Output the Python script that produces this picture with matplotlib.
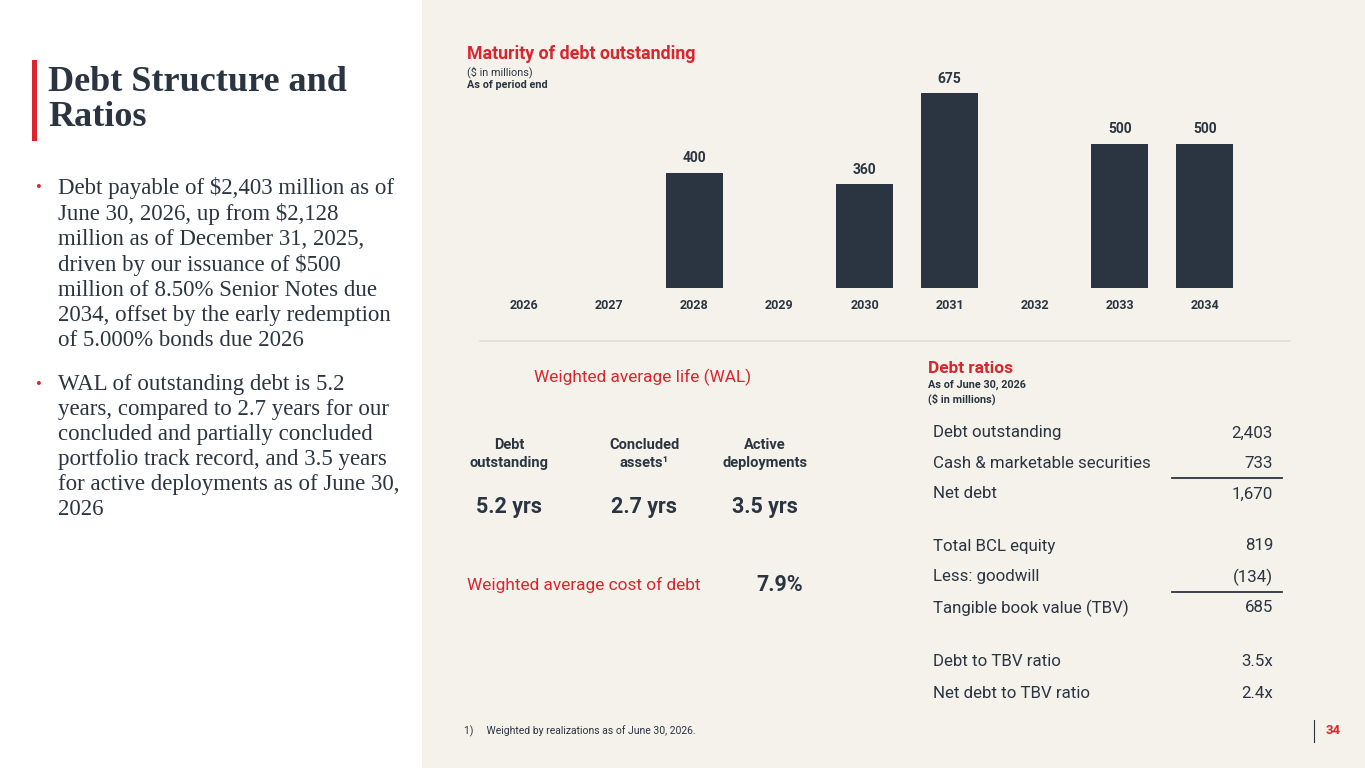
import matplotlib
matplotlib.use("Agg")
import matplotlib.pyplot as plt
from matplotlib.patches import Rectangle
from matplotlib.lines import Line2D

W, H = 1365, 768
NAVY = "#2b3541"
RED = "#d9252e"
BEIGE = "#f4f2eb"
SANS = ["Roboto", "DejaVu Sans"]
SERIF = ["Liberation Serif", "DejaVu Serif"]

# data
years = ["2026", "2027", "2028", "2029", "2030", "2031", "2032", "2033", "2034"]
maturities = [0, 0, 400, 0, 360, 675, 0, 500, 500]

wal_headers = ["Debt\noutstanding", "Concluded\nassets\u00b9", "Active\ndeployments"]
wal_values = ["5.2 yrs", "2.7 yrs", "3.5 yrs"]
cost_of_debt = "7.9%"

ratio_labels = ["Debt outstanding", "Cash & marketable securities", "Net debt",
                "Total BCL equity", "Less: goodwill", "Tangible book value (TBV)",
                "Debt to TBV ratio", "Net debt to TBV ratio"]
ratio_values = ["2,403", "733", "1,670", "819", "(134)", "685", "3.5x", "2.4x"]

bullets = [
    "Debt payable of $2,403 million as of\nJune 30, 2026, up from $2,128\nmillion as of December 31, 2025,\n"
    "driven by our issuance of $500\nmillion of 8.50% Senior Notes due\n2034, offset by the early redemption\n"
    "of 5.000% bonds due 2026",
    "WAL of outstanding debt is 5.2\nyears, compared to 2.7 years for our\nconcluded and partially concluded\n"
    "portfolio track record, and 3.5 years\nfor active deployments as of June 30,\n2026",
]

fig = plt.figure(figsize=(W / 100, H / 100), dpi=100)
fig.patch.set_facecolor("white")


def fx(x):
    return x / W


def fy(y):
    return 1 - y / H


def txt(x, y, s, **kw):
    kw.setdefault("family", SANS)
    kw.setdefault("color", NAVY)
    kw.setdefault("va", "center")
    fig.text(fx(x), fy(y), s, **kw)


# beige panel (behind the axes)
fig.patches.append(Rectangle((fx(422), 0), 1 - fx(422), 1, transform=fig.transFigure,
                             facecolor=BEIGE, edgecolor="none", zorder=-5))

# title block
fig.patches.append(Rectangle((fx(32), fy(141)), fx(5), 81 / H, transform=fig.transFigure,
                             facecolor=RED, edgecolor="none"))
txt(48, 100, "Debt Structure and\nRatios", family=SERIF, fontsize=26, fontweight="bold",
    linespacing=1.1)

# bullets
by = [189, 386]
for y0, b in zip(by, bullets):
    txt(38, y0 - 1, "\u2022", color=RED, fontsize=12, ha="center", family=SERIF)
    fig.text(fx(58), fy(y0 - 12), b, family=SERIF, color=NAVY, fontsize=16.5, va="top",
             linespacing=1.25)

# bar chart
ax = fig.add_axes([fx(481.5), fy(288), fx(1247.5) - fx(481.5), (288 - 60) / H])
ax.set_facecolor("none")
xs = list(range(len(years)))
bx = [x for x, v in zip(xs, maturities) if v > 0]
bv = [v for v in maturities if v > 0]
ax.bar(bx, bv, width=0.67, color=NAVY)
for x, v in zip(bx, bv):
    ax.text(x, v + 25, str(v), ha="center", va="bottom", fontsize=10, fontweight="bold",
            color=NAVY, family=SANS)
ax.set_xlim(-0.5, len(years) - 0.5)
ax.set_ylim(0, 790)
ax.set_xticks(xs)
ax.set_xticklabels(years, fontsize=9, fontweight="bold", color=NAVY, family=SANS)
ax.tick_params(axis="x", length=0, pad=8)
ax.set_yticks([])
for s in ax.spines.values():
    s.set_visible(False)

txt(467, 54, "Maturity of debt outstanding", color=RED, fontsize=12.8, fontweight="bold")
txt(467, 72, "($ in millions)", fontsize=7.8)
txt(467, 85, "As of period end", fontsize=7.8, fontweight="bold")

# separator
fig.lines.append(Line2D([fx(480), fx(1290)], [fy(341), fy(341)], transform=fig.transFigure,
                        color="#e2ded5", lw=1.2))

# WAL block
txt(643, 377, "Weighted average life (WAL)", color=RED, fontsize=12.4, ha="center")
wal_x = [509, 644, 765]
for x, h, v in zip(wal_x, wal_headers, wal_values):
    txt(x, 454, h, fontsize=10.5, fontweight="bold", ha="center", linespacing=1.4)
    txt(x, 507, v, fontsize=15.5, fontweight="bold", ha="center")
txt(467, 585, "Weighted average cost of debt", color=RED, fontsize=12.4)
txt(780, 585, cost_of_debt, fontsize=15.5, fontweight="bold", ha="center")

# debt ratios table
txt(928, 368, "Debt ratios", color=RED, fontsize=12.4, fontweight="bold")
txt(928, 385, "As of June 30, 2026", fontsize=7.8, fontweight="bold")
txt(928, 399, "($ in millions)", fontsize=7.8, fontweight="bold")
row_y = [433, 463, 494, 546, 577, 608, 662, 693]
for y, lab, val in zip(row_y, ratio_labels, ratio_values):
    txt(933, y, lab, fontsize=12.2)
    txt(1273, y, val, fontsize=12.2, ha="right")
for y in (478, 592):
    fig.lines.append(Line2D([fx(1172), fx(1282)], [fy(y), fy(y)], transform=fig.transFigure,
                            color=NAVY, lw=1.3))

# footnote and page number
txt(464, 731, "1)     Weighted by realizations as of June 30, 2026.", fontsize=7.5)
fig.lines.append(Line2D([fx(1314), fx(1314)], [fy(720), fy(742)], transform=fig.transFigure,
                        color=NAVY, lw=0.8))
txt(1333, 731, "34", color=RED, fontsize=9.5, fontweight="bold", ha="center")

fig.savefig("out.png", dpi=100, facecolor=fig.get_facecolor())
